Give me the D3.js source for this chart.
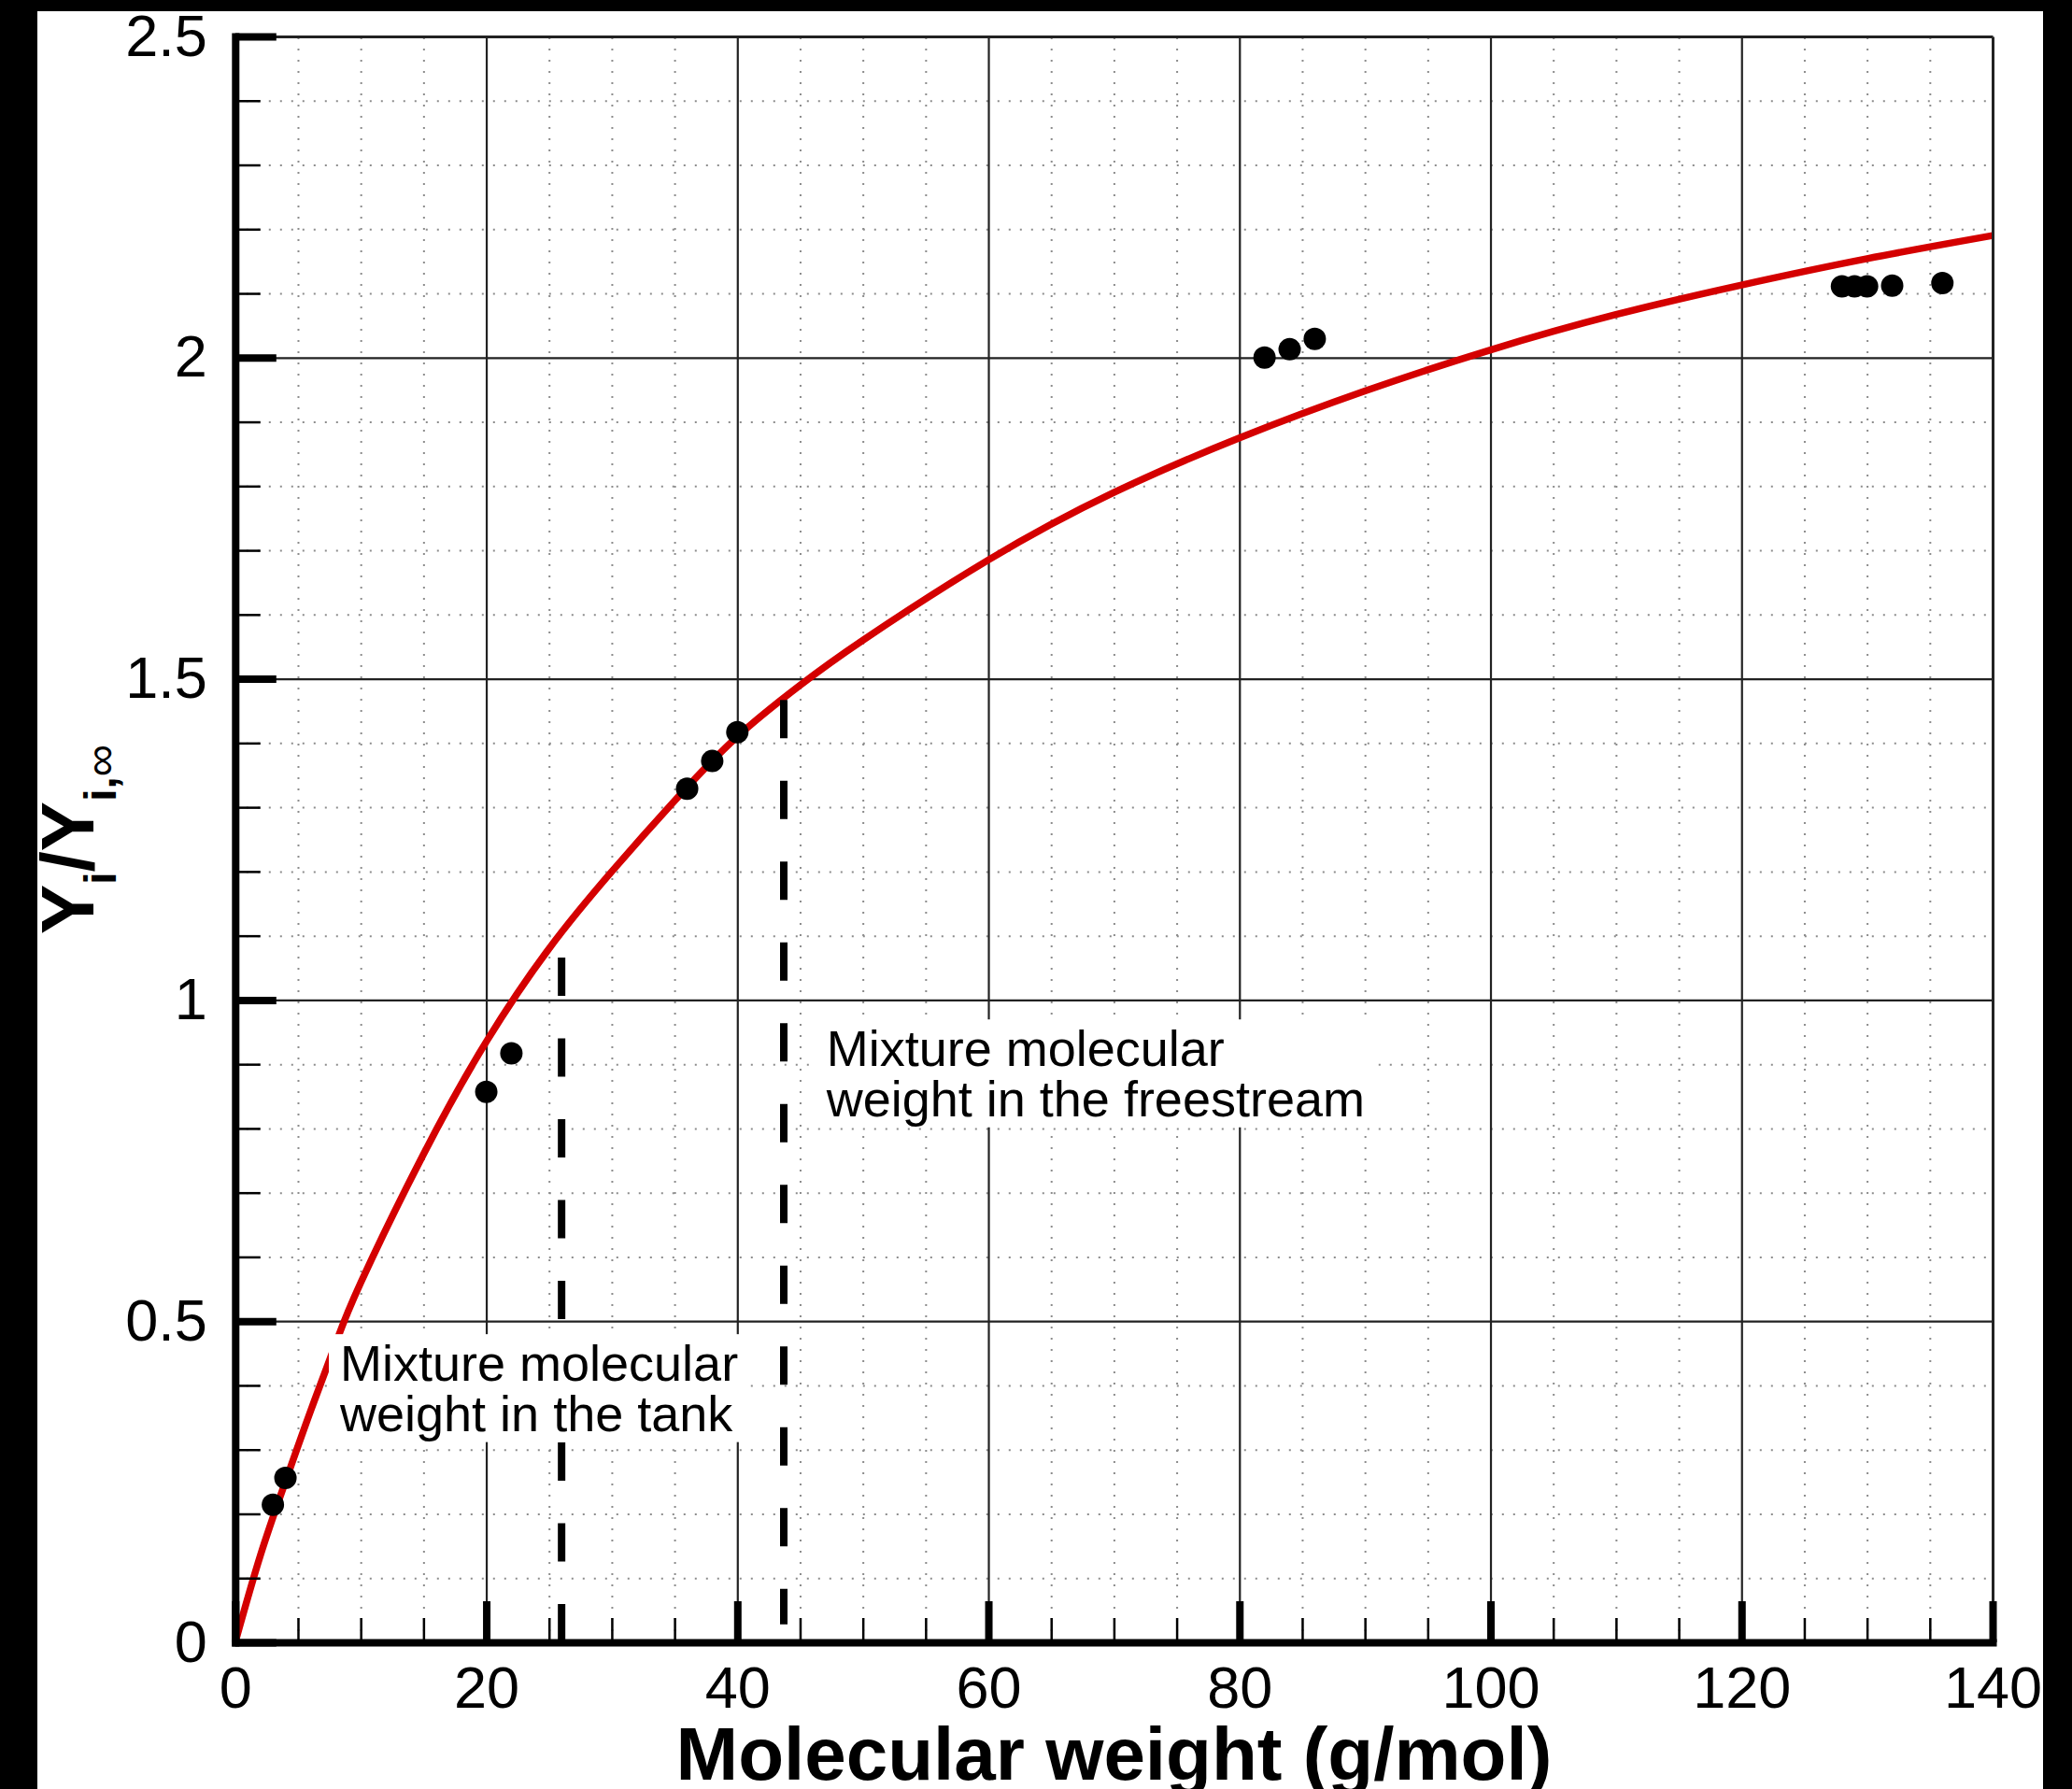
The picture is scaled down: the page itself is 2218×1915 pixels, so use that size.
<!DOCTYPE html>
<html><head><meta charset="utf-8">
<script src="https://cdn.jsdelivr.net/npm/d3@7"></script>
<style>
html,body{margin:0;padding:0;background:#000;}
svg{display:block;}
text{font-family:"Liberation Sans",Arial,Helvetica,sans-serif;}
</style></head><body>
<svg id="chart" width="2218" height="1915"></svg>
<script>
// ---------- data ----------
const xMajorTicks = [0, 20, 40, 60, 80, 100, 120, 140];
const xTickLabels = ["0", "20", "40", "60", "80", "100", "120", "140"];
const yMajorTicks = [0, 0.5, 1, 1.5, 2, 2.5];
const yTickLabels = ["0", "0.5", "1", "1.5", "2", "2.5"];
const xMinorTicks = [5,10,15,25,30,35,45,50,55,65,70,75,85,90,95,105,110,115,125,130,135];
const yMinorTicks = [0.1,0.2,0.3,0.4,0.6,0.7,0.8,0.9,1.1,1.2,1.3,1.4,1.6,1.7,1.8,1.9,2.1,2.2,2.3,2.4];

// red fitted curve
const fitMW    = [0, 2, 4, 6, 8, 10, 15, 20, 25, 30, 35, 40, 45, 50, 60, 70, 80, 90, 100, 110, 120, 130, 140];
const fitRatio = [0, 0.135, 0.25, 0.36, 0.465, 0.56, 0.76, 0.935, 1.08, 1.20, 1.31, 1.41, 1.49, 1.56, 1.685, 1.79, 1.875, 1.948, 2.012, 2.067, 2.113, 2.154, 2.19];

// black dots (isotopes)
const isotopeMW    = [3, 4, 20, 22, 36, 38, 40, 82, 84, 86, 128, 129, 130, 132, 136];
const isotopeRatio = [0.214, 0.256, 0.857, 0.917, 1.329, 1.372, 1.417, 2.0, 2.013, 2.029, 2.111, 2.111, 2.111, 2.112, 2.116];

// dashed markers
const mixtureMW     = [26, 43.7];
const mixtureTop    = [1.066, 1.467];
const mixtureBottom = [0, 0.028];

// annotations
const noteLines = [["Mixture molecular", "weight in the tank"], ["Mixture molecular", "weight in the freestream"]];
const noteX = [8.35, 47.1];
const noteY = [0.407, 0.897];

const xTitle = "Molecular weight (g/mol)";

// ---------- layout ----------
const W = 2218, H = 1915;
const L = 251.8, R = 2133, T = 39, B = 1758;
const svg = d3.select("#chart");

const x = d3.scaleLinear().domain([0, 140]).range([L, R]);
const y = d3.scaleLinear().domain([0, 2.5]).range([B, T]);

svg.append("rect").attr("x", 0).attr("y", 0).attr("width", W).attr("height", H).attr("fill", "#fff");

// minor dotted grid
const gMinX = svg.append("g").attr("transform", `translate(0,${B})`)
  .call(d3.axisBottom(x).tickValues(xMinorTicks).tickSize(-(B - T)).tickFormat(""));
gMinX.select(".domain").remove();
gMinX.selectAll("line").attr("stroke", "#8c8c8c").attr("stroke-width", 2).attr("stroke-dasharray", "2 10");
const gMinY = svg.append("g").attr("transform", `translate(${L},0)`)
  .call(d3.axisLeft(y).tickValues(yMinorTicks).tickSize(-(R - L)).tickFormat(""));
gMinY.select(".domain").remove();
gMinY.selectAll("line").attr("stroke", "#8c8c8c").attr("stroke-width", 2).attr("stroke-dasharray", "2 10");

// major solid grid
const gMajX = svg.append("g").attr("transform", `translate(0,${B})`)
  .call(d3.axisBottom(x).tickValues(xMajorTicks.slice(1, -1)).tickSize(-(B - T)).tickFormat(""));
gMajX.select(".domain").remove();
gMajX.selectAll("line").attr("stroke", "#222").attr("stroke-width", 2.2);
const gMajY = svg.append("g").attr("transform", `translate(${L},0)`)
  .call(d3.axisLeft(y).tickValues(yMajorTicks.slice(1, -1)).tickSize(-(R - L)).tickFormat(""));
gMajY.select(".domain").remove();
gMajY.selectAll("line").attr("stroke", "#222").attr("stroke-width", 2.2);

// red curve
const fitData = fitMW.map((d, i) => [d, fitRatio[i]]);
svg.append("path")
  .attr("d", d3.line().x(d => x(d[0])).y(d => y(d[1])).curve(d3.curveNatural)(fitData))
  .attr("fill", "none").attr("stroke", "#d40000").attr("stroke-width", 7.5);

// dashed markers
svg.selectAll(".mix").data(mixtureMW).enter().append("line")
  .attr("x1", d => x(d)).attr("x2", d => x(d))
  .attr("y1", (d, i) => y(mixtureTop[i])).attr("y2", (d, i) => y(mixtureBottom[i]))
  .attr("stroke", "#000").attr("stroke-width", 8).attr("stroke-dasharray", "41 45.5");

// dots
svg.selectAll(".pt").data(isotopeMW).enter().append("circle")
  .attr("cx", d => x(d)).attr("cy", (d, i) => y(isotopeRatio[i]))
  .attr("r", 12).attr("fill", "#000");

// annotations with white boxes
noteLines.forEach((lines, k) => {
  const g = svg.append("g");
  const box = g.append("rect").attr("fill", "#fff");
  const t = g.append("text").attr("font-size", 54).attr("fill", "#000")
    .attr("x", x(noteX[k])).attr("y", y(noteY[k]));
  lines.forEach((s, j) => {
    t.append("tspan").attr("x", x(noteX[k])).attr("dy", j === 0 ? 0 : 53.5).text(s);
  });
  const bb = t.node().getBBox();
  box.attr("x", bb.x - 11).attr("y", bb.y - 1).attr("width", bb.width + 22).attr("height", bb.height + 2);
});

// frame (top / right thin)
const gTop = svg.append("g").attr("transform", `translate(0,${T})`)
  .call(d3.axisTop(x).tickValues([]).tickSizeOuter(0));
gTop.select(".domain").attr("stroke", "#222").attr("stroke-width", 3);
const gRight = svg.append("g").attr("transform", `translate(${R},0)`)
  .call(d3.axisRight(y).tickValues([]).tickSizeOuter(0));
gRight.select(".domain").attr("stroke", "#222").attr("stroke-width", 3);

// minor ticks
const gMtX = svg.append("g").attr("transform", `translate(0,${B})`)
  .call(d3.axisBottom(x).tickValues(xMinorTicks).tickSize(-26).tickFormat(""));
gMtX.select(".domain").remove();
gMtX.selectAll("line").attr("stroke", "#000").attr("stroke-width", 2.5);
const gMtY = svg.append("g").attr("transform", `translate(${L},0)`)
  .call(d3.axisLeft(y).tickValues(yMinorTicks).tickSize(-27).tickFormat(""));
gMtY.select(".domain").remove();
gMtY.selectAll("line").attr("stroke", "#000").attr("stroke-width", 2.5);

// main axes
const gX = svg.append("g").attr("transform", `translate(0,${B})`)
  .call(d3.axisBottom(x).tickValues(xMajorTicks).tickSize(-44).tickSizeOuter(0).tickPadding(25)
    .tickFormat((d, i) => xTickLabels[i]));
gX.select(".domain").attr("stroke", "#000").attr("stroke-width", 8).attr("stroke-linecap", "square");
gX.selectAll(".tick line").attr("stroke", "#000").attr("stroke-width", 8);
gX.selectAll("text").attr("font-size", 63).attr("fill", "#000")
  .attr("font-family", '"Liberation Sans",Arial,Helvetica,sans-serif');

const gY = svg.append("g").attr("transform", `translate(${L},0)`)
  .call(d3.axisLeft(y).tickValues(yMajorTicks).tickSize(-44).tickSizeOuter(0).tickPadding(30)
    .tickFormat((d, i) => yTickLabels[i]));
gY.select(".domain").attr("stroke", "#000").attr("stroke-width", 8).attr("stroke-linecap", "square");
gY.selectAll(".tick line").attr("stroke", "#000").attr("stroke-width", 8);
gY.selectAll("text").attr("font-size", 63).attr("fill", "#000")
  .attr("font-family", '"Liberation Sans",Arial,Helvetica,sans-serif');

// axis titles
svg.append("text").attr("x", (L + R) / 2).attr("y", 1905).attr("text-anchor", "middle")
  .attr("font-size", 80).attr("font-weight", "bold").attr("fill", "#000").text(xTitle);

const yt = svg.append("text").attr("transform", `translate(100,${(T + B) / 2}) rotate(-90)`)
  .attr("text-anchor", "middle").attr("font-size", 80).attr("font-weight", "bold").attr("fill", "#000");
yt.append("tspan").text("Y");
yt.append("tspan").attr("font-size", 48).attr("dy", 24).text("i");
yt.append("tspan").attr("dy", -24).text("/Y");
yt.append("tspan").attr("font-size", 48).attr("dy", 24).text("i,");
yt.append("tspan").attr("font-size", 48).attr("font-weight", "normal").text("\u221E");

// black border bands
svg.append("rect").attr("x", 0).attr("y", 0).attr("width", W).attr("height", 12).attr("fill", "#000");
svg.append("rect").attr("x", 0).attr("y", 0).attr("width", 40).attr("height", H).attr("fill", "#000");
svg.append("rect").attr("x", 2187).attr("y", 0).attr("width", W - 2187).attr("height", H).attr("fill", "#000");
</script>
</body></html>
